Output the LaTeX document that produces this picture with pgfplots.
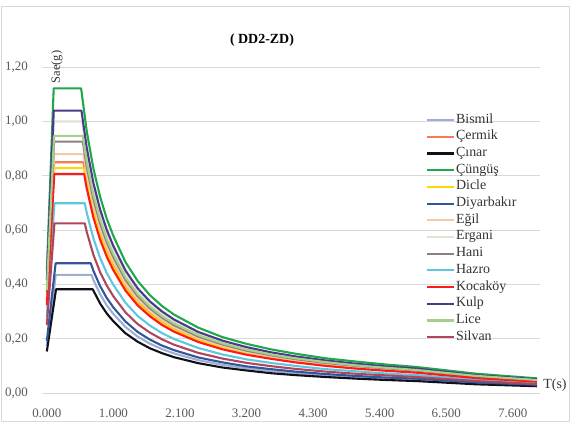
\documentclass[border=0pt]{standalone}
\usepackage{fontspec}
\setmainfont{Liberation Serif}
\usepackage{pgfplots}
\pgfplotsset{compat=1.18}

\definecolor{cBismil}{HTML}{9DB0D0}
\definecolor{cCermik}{HTML}{F47C50}
\definecolor{cCinar}{HTML}{101018}
\definecolor{cCungus}{HTML}{1FA84A}
\definecolor{cDicle}{HTML}{FFD700}
\definecolor{cDiyarbakir}{HTML}{34559C}
\definecolor{cEgil}{HTML}{F5CBA7}
\definecolor{cErgani}{HTML}{DCE6D2}
\definecolor{cHani}{HTML}{8C807E}
\definecolor{cHazro}{HTML}{5BC8E0}
\definecolor{cKocakoy}{HTML}{FF1A1A}
\definecolor{cKulp}{HTML}{4B3A8C}
\definecolor{cLice}{HTML}{A6D08A}
\definecolor{cSilvan}{HTML}{B0465A}
\definecolor{gridgrey}{HTML}{D9D9D9}
\definecolor{labelgrey}{HTML}{595959}

\begin{document}
\begin{tikzpicture}[x=1bp,y=1bp]
\useasboundingbox (-42,-30) rectangle (529,393);
\draw[gridgrey, line width=1bp] (-40,-28) rectangle (527,386);
\begin{axis}[
  at={(0,0)}, anchor=south west,
  scale only axis, width=498bp, height=358.4bp,
  xmin=-0.08, xmax=8.15, ymin=0, ymax=1.32,
  % spectrum periods: finer spacing below 1 s on the category scale
  x filter/.expression={x<=1 ? 1.1*x : x+0.1},
  xtick={0,1.1,2.2,3.3,4.4,5.5,6.6,7.7},
  xticklabels={0.000,1.000,2.100,3.200,4.300,5.400,6.500,7.600},
  ytick={0,0.2,0.4,0.6,0.8,1.0,1.2},
  yticklabels={{0,00},{0,20},{0,40},{0,60},{0,80},{1,00},{1,20}},
  ymajorgrids, grid style={gridgrey, line width=0.9bp},
  axis line style={draw=none}, major tick length=0pt,
  tick label style={font=\fontsize{13}{15}\selectfont, text=labelgrey},
  xticklabel style={inner sep=0pt, anchor=north, yshift=-16bp},
  yticklabel style={inner sep=0pt, anchor=east, xshift=-14bp},
  clip=false,
  every axis plot/.append style={line width=2.1bp, line join=round, mark=none},
  legend image code/.code={\draw[#1, line width=2.1bp, line cap=butt] (0bp,0bp) -- (27bp,0bp);},
  legend style={at={(0.771,0.781)}, anchor=north west, draw=none, fill=none,
    inner sep=0pt, outer sep=0pt, row sep=2.7bp,
    font=\fontsize{14}{16}\selectfont, text=black!80,
    nodes={inner sep=1bp, text height=9bp, text depth=3bp},
    legend cell align=left},
]
\addplot[cBismil] coordinates {(0,0.174) (0.134,0.435) (0.67,0.435) (0.7,0.416) (0.8,0.364) (0.9,0.323) (1.0,0.291) (1.2,0.243) (1.4,0.208) (1.6,0.182) (1.8,0.162) (2.0,0.146) (2.4,0.121) (2.8,0.104) (3.2,0.091) (3.6,0.081) (4.0,0.073) (4.5,0.065) (5.0,0.058) (5.5,0.053) (6.0,0.049) (7.0,0.036) (8.0,0.027)};
\addlegendentry{Bismil}
\addplot[cCermik] coordinates {(0,0.340) (0.11,0.850) (0.55,0.850) (0.6,0.780) (0.7,0.669) (0.8,0.585) (0.9,0.520) (1.0,0.468) (1.2,0.390) (1.4,0.334) (1.6,0.293) (1.8,0.260) (2.0,0.234) (2.4,0.195) (2.8,0.167) (3.2,0.146) (3.6,0.130) (4.0,0.117) (4.5,0.104) (5.0,0.094) (5.5,0.085) (6.0,0.078) (7.0,0.057) (8.0,0.044)};
\addlegendentry{Çermik}
\addplot[cCinar] coordinates {(0,0.153) (0.138,0.382) (0.69,0.382) (0.7,0.377) (0.8,0.330) (0.9,0.293) (1.0,0.264) (1.2,0.220) (1.4,0.189) (1.6,0.165) (1.8,0.147) (2.0,0.132) (2.4,0.110) (2.8,0.094) (3.2,0.083) (3.6,0.073) (4.0,0.066) (4.5,0.059) (5.0,0.053) (5.5,0.048) (6.0,0.044) (7.0,0.032) (8.0,0.025)};
\addlegendentry{Çınar}
\addplot[cCungus] coordinates {(0,0.449) (0.103,1.122) (0.515,1.122) (0.6,0.963) (0.7,0.826) (0.8,0.723) (0.9,0.642) (1.0,0.578) (1.2,0.482) (1.4,0.413) (1.6,0.361) (1.8,0.321) (2.0,0.289) (2.4,0.241) (2.8,0.206) (3.2,0.181) (3.6,0.161) (4.0,0.145) (4.5,0.128) (5.0,0.116) (5.5,0.105) (6.0,0.096) (7.0,0.071) (8.0,0.054)};
\addlegendentry{Çüngüş}
\addplot[cDicle] coordinates {(0,0.331) (0.112,0.828) (0.56,0.828) (0.6,0.773) (0.7,0.663) (0.8,0.580) (0.9,0.516) (1.0,0.464) (1.2,0.387) (1.4,0.331) (1.6,0.290) (1.8,0.258) (2.0,0.232) (2.4,0.193) (2.8,0.166) (3.2,0.145) (3.6,0.129) (4.0,0.116) (4.5,0.103) (5.0,0.093) (5.5,0.084) (6.0,0.077) (7.0,0.057) (8.0,0.044)};
\addlegendentry{Dicle}
\addplot[cDiyarbakir] coordinates {(0,0.191) (0.132,0.478) (0.66,0.478) (0.7,0.450) (0.8,0.394) (0.9,0.350) (1.0,0.315) (1.2,0.263) (1.4,0.225) (1.6,0.197) (1.8,0.175) (2.0,0.158) (2.4,0.131) (2.8,0.113) (3.2,0.098) (3.6,0.088) (4.0,0.079) (4.5,0.070) (5.0,0.063) (5.5,0.057) (6.0,0.053) (7.0,0.039) (8.0,0.030)};
\addlegendentry{Diyarbakır}
\addplot[cEgil] coordinates {(0,0.352) (0.11,0.880) (0.55,0.880) (0.6,0.807) (0.7,0.691) (0.8,0.605) (0.9,0.538) (1.0,0.484) (1.2,0.403) (1.4,0.346) (1.6,0.303) (1.8,0.269) (2.0,0.242) (2.4,0.202) (2.8,0.173) (3.2,0.151) (3.6,0.134) (4.0,0.121) (4.5,0.108) (5.0,0.097) (5.5,0.088) (6.0,0.081) (7.0,0.059) (8.0,0.045)};
\addlegendentry{Eğil}
\addplot[cErgani] coordinates {(0,0.400) (0.106,1.000) (0.53,1.000) (0.6,0.883) (0.7,0.757) (0.8,0.663) (0.9,0.589) (1.0,0.530) (1.2,0.442) (1.4,0.379) (1.6,0.331) (1.8,0.294) (2.0,0.265) (2.4,0.221) (2.8,0.189) (3.2,0.166) (3.6,0.147) (4.0,0.133) (4.5,0.118) (5.0,0.106) (5.5,0.096) (6.0,0.088) (7.0,0.065) (8.0,0.050)};
\addlegendentry{Ergani}
\addplot[cHani] coordinates {(0,0.370) (0.108,0.926) (0.54,0.926) (0.6,0.833) (0.7,0.714) (0.8,0.625) (0.9,0.556) (1.0,0.500) (1.2,0.417) (1.4,0.357) (1.6,0.313) (1.8,0.278) (2.0,0.250) (2.4,0.208) (2.8,0.179) (3.2,0.156) (3.6,0.139) (4.0,0.125) (4.5,0.111) (5.0,0.100) (5.5,0.091) (6.0,0.083) (7.0,0.061) (8.0,0.047)};
\addlegendentry{Hani}
\addplot[cHazro] coordinates {(0,0.280) (0.114,0.699) (0.57,0.699) (0.6,0.663) (0.7,0.569) (0.8,0.498) (0.9,0.442) (1.0,0.398) (1.2,0.332) (1.4,0.284) (1.6,0.249) (1.8,0.221) (2.0,0.199) (2.4,0.166) (2.8,0.142) (3.2,0.124) (3.6,0.111) (4.0,0.100) (4.5,0.088) (5.0,0.080) (5.5,0.072) (6.0,0.066) (7.0,0.049) (8.0,0.037)};
\addlegendentry{Hazro}
\addplot[cKocakoy] coordinates {(0,0.323) (0.112,0.807) (0.56,0.807) (0.6,0.753) (0.7,0.646) (0.8,0.565) (0.9,0.502) (1.0,0.452) (1.2,0.377) (1.4,0.323) (1.6,0.283) (1.8,0.251) (2.0,0.226) (2.4,0.188) (2.8,0.161) (3.2,0.141) (3.6,0.126) (4.0,0.113) (4.5,0.100) (5.0,0.090) (5.5,0.082) (6.0,0.075) (7.0,0.055) (8.0,0.042)};
\addlegendentry{Kocaköy}
\addplot[cKulp] coordinates {(0,0.416) (0.104,1.040) (0.52,1.040) (0.6,0.902) (0.7,0.773) (0.8,0.676) (0.9,0.601) (1.0,0.541) (1.2,0.451) (1.4,0.386) (1.6,0.338) (1.8,0.301) (2.0,0.271) (2.4,0.225) (2.8,0.193) (3.2,0.169) (3.6,0.150) (4.0,0.135) (4.5,0.120) (5.0,0.108) (5.5,0.098) (6.0,0.090) (7.0,0.066) (8.0,0.051)};
\addlegendentry{Kulp}
\addplot[cLice] coordinates {(0,0.379) (0.108,0.947) (0.54,0.947) (0.6,0.852) (0.7,0.730) (0.8,0.639) (0.9,0.568) (1.0,0.511) (1.2,0.426) (1.4,0.365) (1.6,0.319) (1.8,0.284) (2.0,0.256) (2.4,0.213) (2.8,0.183) (3.2,0.160) (3.6,0.142) (4.0,0.128) (4.5,0.114) (5.0,0.102) (5.5,0.093) (6.0,0.085) (7.0,0.063) (8.0,0.048)};
\addlegendentry{Lice}
\addplot[cSilvan] coordinates {(0,0.250) (0.114,0.625) (0.57,0.625) (0.6,0.593) (0.7,0.509) (0.8,0.445) (0.9,0.396) (1.0,0.356) (1.2,0.297) (1.4,0.254) (1.6,0.223) (1.8,0.198) (2.0,0.178) (2.4,0.148) (2.8,0.127) (3.2,0.111) (3.6,0.099) (4.0,0.089) (4.5,0.079) (5.0,0.071) (5.5,0.065) (6.0,0.059) (7.0,0.044) (8.0,0.033)};
\addlegendentry{Silvan}
\end{axis}
% axis titles and chart title
\node[rotate=90, font=\fontsize{12.5}{14}\selectfont, text=black!80] at (15,326) {Sae(g)};
\node[font=\fontsize{14}{16}\selectfont, text=black!80] at (513,8) {T(s)};
\node[font=\bfseries\fontsize{14}{16}\selectfont] at (220,353) {( DD2-ZD)};
\end{tikzpicture}
\end{document}
